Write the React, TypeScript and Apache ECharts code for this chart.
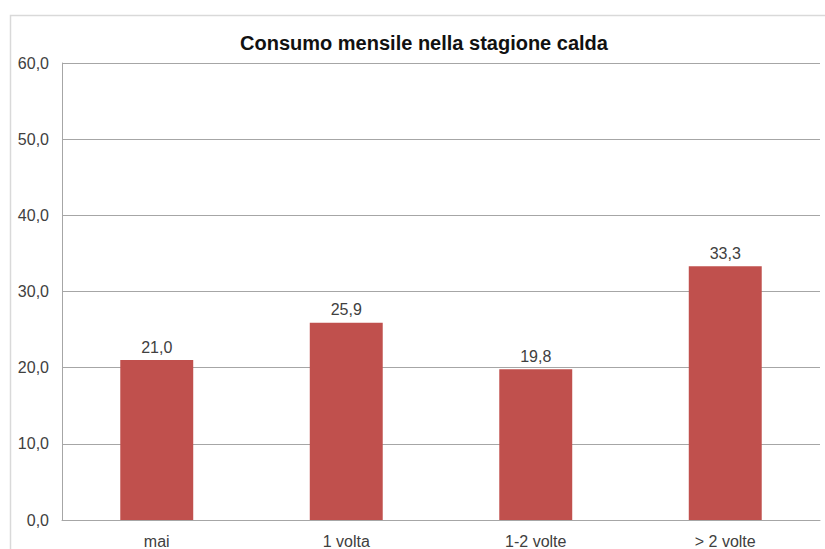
import React, { useEffect, useRef } from "react";
import * as echarts from "echarts";

const categories = ["mai", "1 volta", "1-2 volte", "> 2 volte"];
const values = [21.0, 25.9, 19.8, 33.3];
const title = "Consumo mensile nella stagione calda";

const fmt = (v: number) => v.toFixed(1).replace(".", ",");
const FONT = "Liberation Sans, Arial, sans-serif";

export default function App() {
  const ref = useRef<HTMLDivElement>(null);
  useEffect(() => {
    document.body.style.margin = "0";
    const chart = echarts.init(ref.current!, null, { renderer: "svg" });
    chart.setOption({
      animation: false,
      backgroundColor: "#ffffff",
      textStyle: { fontFamily: FONT },
      title: {
        text: title,
        left: 419,
        textAlign: "center",
        top: 28,
        textStyle: { fontSize: 20, fontWeight: "bold", color: "#111111", fontFamily: FONT },
      },
      graphic: [
        {
          type: "rect",
          shape: { x: 10.5, y: 15.5, width: 830, height: 560 },
          style: { fill: "none", stroke: "#d9d9d9", lineWidth: 1.5 },
          silent: true,
        },
      ],
      grid: { left: 62, right: 5, top: 63, bottom: 29 },
      xAxis: {
        type: "category",
        data: categories,
        axisLine: { show: true, lineStyle: { color: "#a6a6a6" } },
        axisTick: { show: false },
        axisLabel: { color: "#404040", fontSize: 16, margin: 13 },
      },
      yAxis: {
        type: "value",
        min: 0,
        max: 60,
        interval: 10,
        axisLine: { show: true, lineStyle: { color: "#a6a6a6" } },
        axisTick: { show: false },
        splitLine: { lineStyle: { color: "#a6a6a6" } },
        axisLabel: { color: "#404040", fontSize: 16, margin: 13, formatter: (v: number) => fmt(v) },
      },
      series: [
        {
          type: "bar",
          data: values,
          barWidth: "38.5%",
          itemStyle: { color: "#C0504D" },
          label: {
            show: true,
            position: "top",
            distance: 5,
            color: "#404040",
            fontSize: 16,
            formatter: (p: any) => fmt(p.value),
          },
        },
      ],
    });
    return () => chart.dispose();
  }, []);
  return <div ref={ref} style={{ width: 825, height: 549 }} />;
}
